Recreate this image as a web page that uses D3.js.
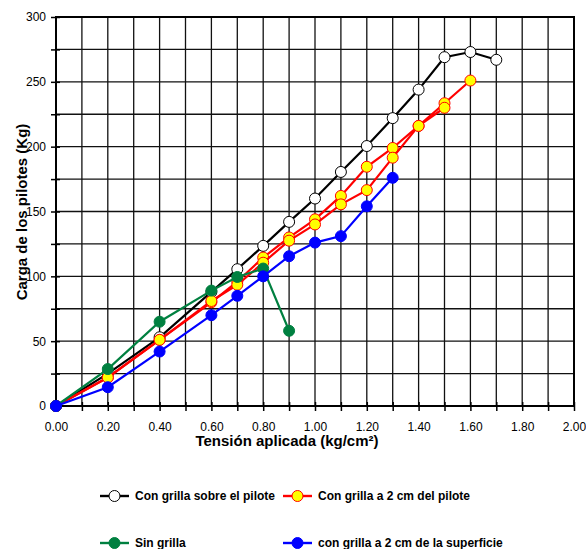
<!DOCTYPE html>
<html>
<head>
<meta charset="utf-8">
<script src="https://cdn.jsdelivr.net/npm/d3@7"></script>
<style>
body{margin:0;background:#fff}
svg text{font-family:"Liberation Sans",Arial,sans-serif}
</style>
</head>
<body>
<svg id="chart" width="586" height="549"></svg>
<script>
// tension (kg/cm2) steps
const tension = [0, 0.2, 0.4, 0.6, 0.7, 0.8, 0.9, 1.0, 1.1, 1.2, 1.3, 1.4, 1.5, 1.6, 1.7]
const sobrePilote = [0, 25, 53, 88, 105.5, 123.5, 142, 160, 180.5, 200.5, 222, 244, 269, 273, 267]
const aDosCmA = [0, 22, 51, 80, 96, 114.5, 130, 144, 162, 184.5, 199, 216, 233.5, 251]
const aDosCmB = [0, 22, 51, 81, 93.5, 110.5, 127.5, 140, 155.5, 166.5, 191.5, 216, 230]
const sinGrilla = [0, 28.5, 65, 89, 99.5, 106, 58]
const superficie = [0, 14.5, 42, 70, 85, 100, 115.5, 126, 131, 154, 176]
const xTicks = d3.range(0, 2.001, 0.2)
const yTicks = d3.range(0, 301, 50)

const svg = d3.select("#chart")
const m = {l: 56, t: 17, r: 12, b: 143}
const W = 586-m.l-m.r, H = 549-m.t-m.b
const x = d3.scaleLinear().domain([0, 2]).range([m.l, m.l+W])
const y = d3.scaleLinear().domain([0, 300]).range([m.t+H, m.t])

// grid
const grid = svg.append("g").attr("stroke", "#111").attr("stroke-width", 1.3)
d3.range(0.1, 2, 0.1).forEach(v=>{
	grid.append("line").attr("x1", x(v)).attr("x2", x(v)).attr("y1", m.t).attr("y2", m.t+H)
})
d3.range(25, 300, 25).forEach(v=>{
	grid.append("line").attr("x1", m.l).attr("x2", m.l+W).attr("y1", y(v)).attr("y2", y(v))
})
svg.append("rect").attr("x", m.l).attr("y", m.t).attr("width", W).attr("height", H)
	.attr("fill", "none").attr("stroke", "#000").attr("stroke-width", 2)

// axes
const xAxis = svg.append("g").attr("transform", `translate(0,${m.t+H})`)
	.call(d3.axisBottom(x).tickValues(d3.range(0, 2.001, 0.1)).tickSize(5).tickFormat(""))
xAxis.selectAll(".tick line").attr("y1", -4).attr("stroke-width", 1.5)
const xLab = svg.append("g").attr("transform", `translate(0,${m.t+H})`)
	.call(d3.axisBottom(x).tickValues(xTicks).tickSize(0).tickPadding(16).tickFormat(d3.format(".2f")))
const yAxis = svg.append("g").attr("transform", `translate(${m.l},0)`)
	.call(d3.axisLeft(y).tickValues(d3.range(0, 301, 25)).tickSize(5).tickFormat(""))
yAxis.selectAll(".tick line").attr("x1", 4).attr("stroke-width", 1.5)
const yLab = svg.append("g").attr("transform", `translate(${m.l},0)`)
	.call(d3.axisLeft(y).tickValues(yTicks).tickSize(0).tickPadding(10))
svg.selectAll(".domain").remove()
svg.selectAll(".tick text").attr("font-size", 12).attr("fill", "#000")
	.style("font-family", "Liberation Sans, Arial, sans-serif")

svg.append("text").attr("x", 287).attr("y", 446).attr("text-anchor", "middle")
	.attr("font-size", 15).attr("font-weight", "bold").text("Tensión aplicada (kg/cm²)")
svg.append("text").attr("transform", "translate(27,212) rotate(-90)").attr("text-anchor", "middle")
	.attr("font-size", 15).attr("font-weight", "bold").text("Carga de los pilotes (Kg)")

// series
const series = [
	{name: "Con grilla sobre el pilote", vals: sobrePilote, line: "#000", fill: "#fff", stroke: "#000"},
	{name: "Con grilla a 2 cm del pilote", vals: aDosCmA, line: "#ff0000", fill: "#ffff00", stroke: "#ff0000"},
	{name: null, vals: aDosCmB, line: "#ff0000", fill: "#ffff00", stroke: "#ff0000"},
	{name: "Sin grilla", vals: sinGrilla, line: "#008040", fill: "#008040", stroke: "#008040"},
	{name: "con grilla a 2 cm de la superficie", vals: superficie, line: "#0000ff", fill: "#0000ff", stroke: "#0000ff"}
]
const lineGen = d3.line().x(d=>x(d[0])).y(d=>y(d[1]))
series.forEach(s=>{
	const pts = s.vals.map((v, i)=>[tension[i], v])
	const g = svg.append("g")
	g.append("path").attr("d", lineGen(pts)).attr("fill", "none")
		.attr("stroke", s.line).attr("stroke-width", 2.2)
	g.selectAll("circle").data(pts).join("circle")
		.attr("cx", d=>x(d[0])).attr("cy", d=>y(d[1])).attr("r", 5.5)
		.attr("fill", s.fill).attr("stroke", s.stroke).attr("stroke-width", 1)
})

// legend
const legPos = [[100, 496], [283, 496], null, [100, 543], [283, 543]]
series.forEach((s, i)=>{
	if(!s.name) return
	const [lx, ly] = legPos[i]
	const g = svg.append("g").attr("transform", `translate(${lx},${ly})`)
	g.append("line").attr("x1", 0).attr("x2", 29).attr("stroke", s.line).attr("stroke-width", 2.4)
	g.append("circle").attr("cx", 14.5).attr("r", 5.5).attr("fill", s.fill).attr("stroke", s.stroke)
	g.append("text").attr("x", 35).attr("y", 4).attr("font-size", 12).attr("font-weight", "bold").text(s.name)
})
</script>
</body>
</html>
